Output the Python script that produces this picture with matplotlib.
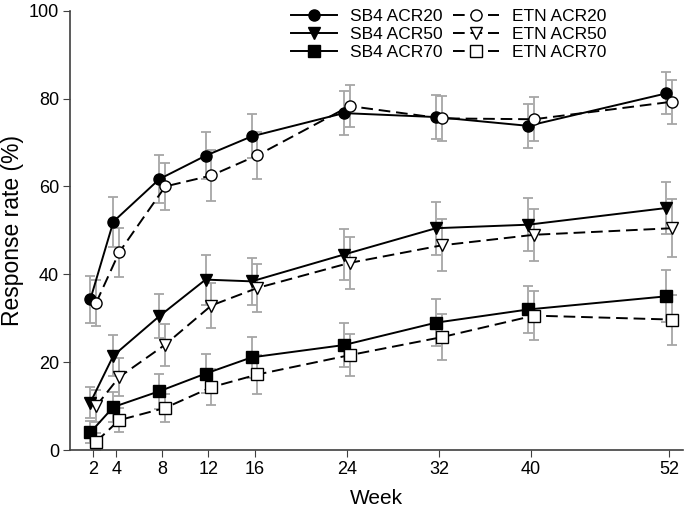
import numpy as np
import matplotlib
matplotlib.use("Agg")
import matplotlib.pyplot as plt

plt.rcParams["font.family"] = ["Liberation Sans", "DejaVu Sans"]

# ── Data ──────────────────────────────────────────────────────────
weeks = [2, 4, 8, 12, 16, 24, 32, 40, 52]

sb4_acr20 = [34.3, 52.0, 61.7, 67.0, 71.4, 76.7, 75.8, 73.8, 81.2]
sb4_acr20_err = [5.3, 5.7, 5.4, 5.3, 5.0, 5.0, 5.0, 5.0, 4.8]
etn_acr20 = [33.5, 45.0, 60.0, 62.5, 67.1, 78.3, 75.5, 75.3, 79.3]
etn_acr20_err = [5.3, 5.5, 5.3, 5.7, 5.4, 4.8, 5.2, 5.0, 5.0]

sb4_acr50 = [10.8, 21.5, 30.5, 38.8, 38.4, 44.5, 50.5, 51.3, 55.1]
sb4_acr50_err = [3.5, 4.6, 5.0, 5.7, 5.4, 5.8, 6.0, 6.0, 6.0]
etn_acr50 = [10.0, 16.6, 24.0, 32.9, 36.9, 42.6, 46.6, 49.0, 50.5]
etn_acr50_err = [3.6, 4.4, 4.8, 5.2, 5.4, 5.9, 5.9, 5.9, 6.6]

sb4_acr70 = [4.0, 9.8, 13.4, 17.4, 21.1, 23.9, 29.0, 32.0, 35.0]
sb4_acr70_err = [2.5, 3.4, 4.0, 4.4, 4.7, 5.0, 5.3, 5.4, 5.9]
etn_acr70 = [1.9, 6.8, 9.6, 14.3, 17.2, 21.6, 25.7, 30.6, 29.7]
etn_acr70_err = [1.9, 2.8, 3.2, 4.1, 4.4, 4.8, 5.3, 5.6, 5.7]

series = [
    ("SB4 ACR20", sb4_acr20, sb4_acr20_err, "o", "black", "-", -0.25),
    ("SB4 ACR50", sb4_acr50, sb4_acr50_err, "v", "black", "-", -0.25),
    ("SB4 ACR70", sb4_acr70, sb4_acr70_err, "s", "black", "-", -0.25),
    ("ETN ACR20", etn_acr20, etn_acr20_err, "o", "white", "--", 0.25),
    ("ETN ACR50", etn_acr50, etn_acr50_err, "v", "white", "--", 0.25),
    ("ETN ACR70", etn_acr70, etn_acr70_err, "s", "white", "--", 0.25),
]

fig = plt.figure(figsize=(6.88, 5.12), dpi=100)
ax = fig.add_axes([0.102, 0.121, 0.891, 0.858])

handles = []
for label, vals, err, marker, face, ls, off in series:
    x = np.array(weeks) + off
    ax.errorbar(x, vals, yerr=err, fmt="none", ecolor="#a6a6a6",
                elinewidth=1.3, capsize=3.5, capthick=1.3, zorder=1)
    h, = ax.plot(x, vals, linestyle=ls, color="black", linewidth=1.4,
                 marker=marker, markersize=8, markerfacecolor=face,
                 markeredgecolor="black", markeredgewidth=1.0,
                 dashes=(6, 3) if ls == "--" else (None, None),
                 label=label, zorder=3)
    handles.append(h)

ax.set_xlim(0, 53.2)
ax.set_ylim(0, 100)
ax.set_xticks(weeks)
ax.set_yticks([0, 20, 40, 60, 80, 100])
ax.tick_params(labelsize=13, direction="out", length=5, pad=3,
               color="#404040")
for s in ["top", "right"]:
    ax.spines[s].set_visible(False)
for s in ["left", "bottom"]:
    ax.spines[s].set_color("#404040")
    ax.spines[s].set_linewidth(1.2)

ax.set_xlabel("Week", fontsize=15, labelpad=8)
ax.set_ylabel("Response rate (%)", fontsize=16.5)
ax.yaxis.set_label_coords(-0.075, 0.5)

fig.legend(handles=handles, ncol=2, frameon=False, fontsize=12.5,
           loc="upper right", bbox_to_anchor=(607 / 688, 1 - 9 / 512),
           borderpad=0, borderaxespad=0,
           handlelength=2.6, columnspacing=0.6, labelspacing=0.15,
           handletextpad=0.8)

fig.savefig("out.png", dpi=100)
